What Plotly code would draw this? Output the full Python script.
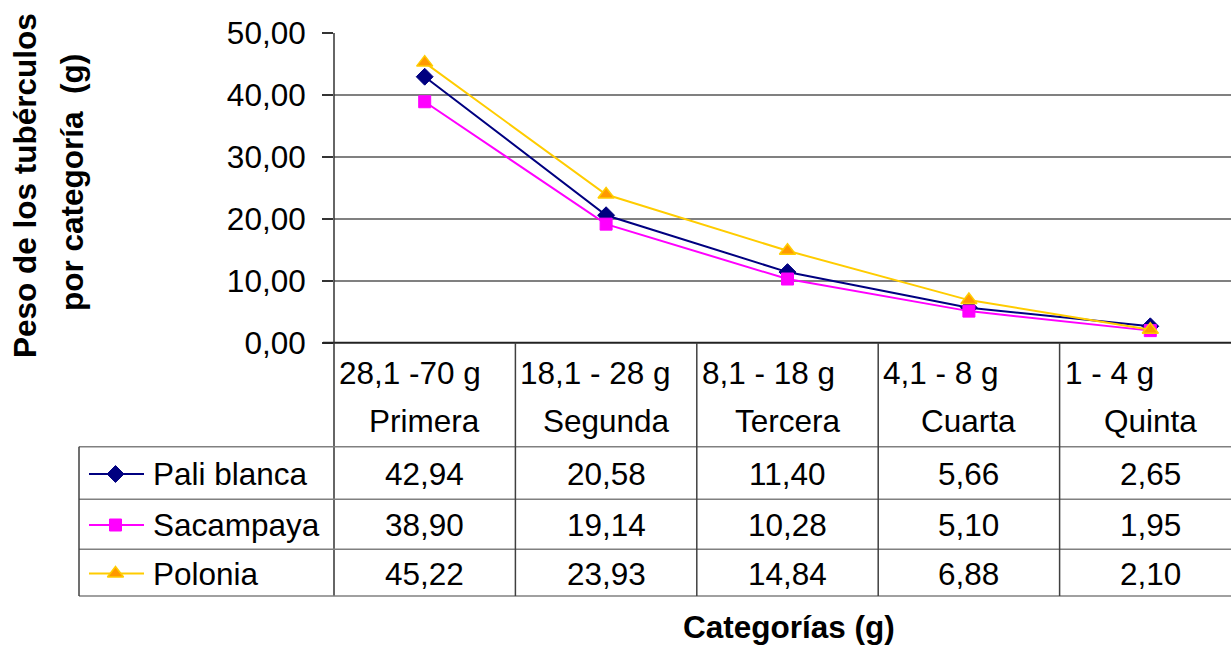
import plotly.graph_objects as go

# Categories (weight range + class name) and the three potato varieties
rangos = ["28,1 -70 g", "18,1 - 28 g", "8,1 - 18 g", "4,1 - 8 g", "1 - 4 g"]
clases = ["Primera", "Segunda", "Tercera", "Cuarta", "Quinta"]
variedades = ["Pali blanca", "Sacampaya", "Polonia"]
pali_blanca = [42.94, 20.58, 11.40, 5.66, 2.65]
sacampaya = [38.90, 19.14, 10.28, 5.10, 1.95]
polonia = [45.22, 23.93, 14.84, 6.88, 2.10]
y_ticks = [0, 10, 20, 30, 40, 50]

W, H = 1231, 645
FONT = "Liberation Sans, Arial, sans-serif"
FS = 31.5

# layout geometry (pixels)
x_axis_px = 334.0
col_w = 181.4
y_top_px, y_zero_px = 33.0, 342.7
row_lines_px = [446.7, 499.3, 549.3, 596.0]
legend_left_px = 79.0
row_centers_px = [474.0, 525.0, 573.5]


def py(p):
    return 1 - p / H


def px(p):
    return p / W


series = [
    dict(name=variedades[0], y=pali_blanca, color="#000080",
         marker=dict(symbol="diamond", size=13, color="#000080",
                     line=dict(color="#000080", width=1))),
    dict(name=variedades[1], y=sacampaya, color="#FF00FF",
         marker=dict(symbol="square", size=12, color="#FF00FF",
                     line=dict(color="#FF00FF", width=1))),
    dict(name=variedades[2], y=polonia, color="#FFCC00",
         marker=dict(symbol="triangle-up", size=14, color="#FF9900",
                     line=dict(color="#FFCC00", width=1.5))),
]

fig = go.Figure()
xs = list(range(len(clases)))
for s in series:
    fig.add_trace(go.Scatter(
        x=xs, y=s["y"], mode="lines+markers", name=s["name"],
        line=dict(color=s["color"], width=2), marker=s["marker"],
        showlegend=False, cliponaxis=False, xaxis="x", yaxis="y"))

# legend keys inside the data table (overlay axes in pixel units)
for s, cy in zip(series, row_centers_px):
    fig.add_trace(go.Scatter(
        x=[89, 144], y=[cy, cy], mode="lines", line=dict(color=s["color"], width=2),
        showlegend=False, hoverinfo="skip", xaxis="x2", yaxis="y2"))
    fig.add_trace(go.Scatter(
        x=[115.5], y=[cy], mode="markers", marker=s["marker"],
        showlegend=False, hoverinfo="skip", xaxis="x2", yaxis="y2", cliponaxis=False))

x_end = -0.5 + (W - x_axis_px) / col_w

shapes = []
grid_col = "#808080"
# x axis line (value 0) with its outer tick
shapes.append(dict(type="line", xref="paper", yref="paper",
                   x0=px(323), x1=1, y0=py(y_zero_px), y1=py(y_zero_px),
                   line=dict(color="#222222", width=2)))
# y axis line continued down through the table
shapes.append(dict(type="line", xref="paper", yref="paper",
                   x0=px(x_axis_px), x1=px(x_axis_px), y0=py(y_top_px), y1=py(row_lines_px[-1]),
                   line=dict(color="#333333", width=1.5)))
# table row lines
for r in row_lines_px:
    shapes.append(dict(type="line", xref="paper", yref="paper",
                       x0=px(legend_left_px), x1=1, y0=py(r), y1=py(r),
                       line=dict(color=grid_col, width=1.5)))
# legend column left edge
shapes.append(dict(type="line", xref="paper", yref="paper",
                   x0=px(legend_left_px), x1=px(legend_left_px),
                   y0=py(row_lines_px[0]), y1=py(row_lines_px[-1]),
                   line=dict(color="#404040", width=1.5)))
# column separators
for i in range(1, len(clases)):
    shapes.append(dict(type="line", xref="x", yref="paper",
                       x0=i - 0.5, x1=i - 0.5, y0=py(y_zero_px), y1=py(row_lines_px[-1]),
                       line=dict(color="#404040", width=1.5)))

ann = []
txt = dict(family=FONT, size=FS, color="black")
for i, (rg, cl) in enumerate(zip(rangos, clases)):
    ann.append(dict(x=i - 0.5, xref="x", y=py(373), yref="paper", text=rg,
                    xanchor="left", yanchor="middle", xshift=3, showarrow=False, font=txt))
    ann.append(dict(x=i, xref="x", y=py(421), yref="paper", text=cl,
                    xanchor="center", yanchor="middle", showarrow=False, font=txt))
for vals, cy in zip([pali_blanca, sacampaya, polonia], row_centers_px):
    for i, v in enumerate(vals):
        ann.append(dict(x=i, xref="x", y=py(cy), yref="paper",
                        text=f"{v:.2f}".replace(".", ","),
                        xanchor="center", yanchor="middle", showarrow=False, font=txt))
for name, cy in zip(variedades, row_centers_px):
    ann.append(dict(x=px(151), xref="paper", y=py(cy), yref="paper", text=name,
                    xanchor="left", yanchor="middle", showarrow=False, font=txt))

bold = dict(family=FONT, size=31.5, color="black")
ann.append(dict(x=px(789), xref="paper", y=py(627), yref="paper",
                text="<b>Categorías (g)</b>", xanchor="center", yanchor="middle",
                showarrow=False, font=bold))
ann.append(dict(x=px(25), xref="paper", y=py(186), yref="paper",
                text="<b>Peso de los tubérculos</b>", textangle=-90,
                xanchor="center", yanchor="middle", showarrow=False, font=bold))
ann.append(dict(x=px(72), xref="paper", y=py(183), yref="paper",
                text="<b>por categoría  (g)</b>", textangle=-90,
                xanchor="center", yanchor="middle", showarrow=False, font=bold))

fig.update_layout(
    template="none",
    width=W, height=H,
    margin=dict(l=0, r=0, t=0, b=0, pad=0, autoexpand=False),
    paper_bgcolor="white", plot_bgcolor="rgba(0,0,0,0)",
    separators=",.",
    font=dict(family=FONT, size=FS, color="black"),
    xaxis=dict(domain=[px(x_axis_px), 1], range=[-0.5, x_end], visible=False,
               fixedrange=True, automargin=False),
    yaxis=dict(domain=[py(y_zero_px), py(y_top_px)], range=[0, 50],
               tickvals=y_ticks, tickformat=".2f", ticks="outside", ticklen=11,
               tickcolor="#333333", tickwidth=1.5, showgrid=True, gridcolor=grid_col,
               gridwidth=1.5, zeroline=False, showline=False, automargin=False,
               tickfont=dict(family=FONT, size=FS, color="black"),
               ticklabelstandoff=10, fixedrange=True),
    xaxis2=dict(domain=[0, 1], range=[0, W], visible=False, anchor="y2",
                fixedrange=True, automargin=False),
    yaxis2=dict(domain=[0, 1], range=[H, 0], visible=False, anchor="x2",
                fixedrange=True, automargin=False),
    shapes=shapes,
    annotations=ann,
)

fig.write_html("out.html")
